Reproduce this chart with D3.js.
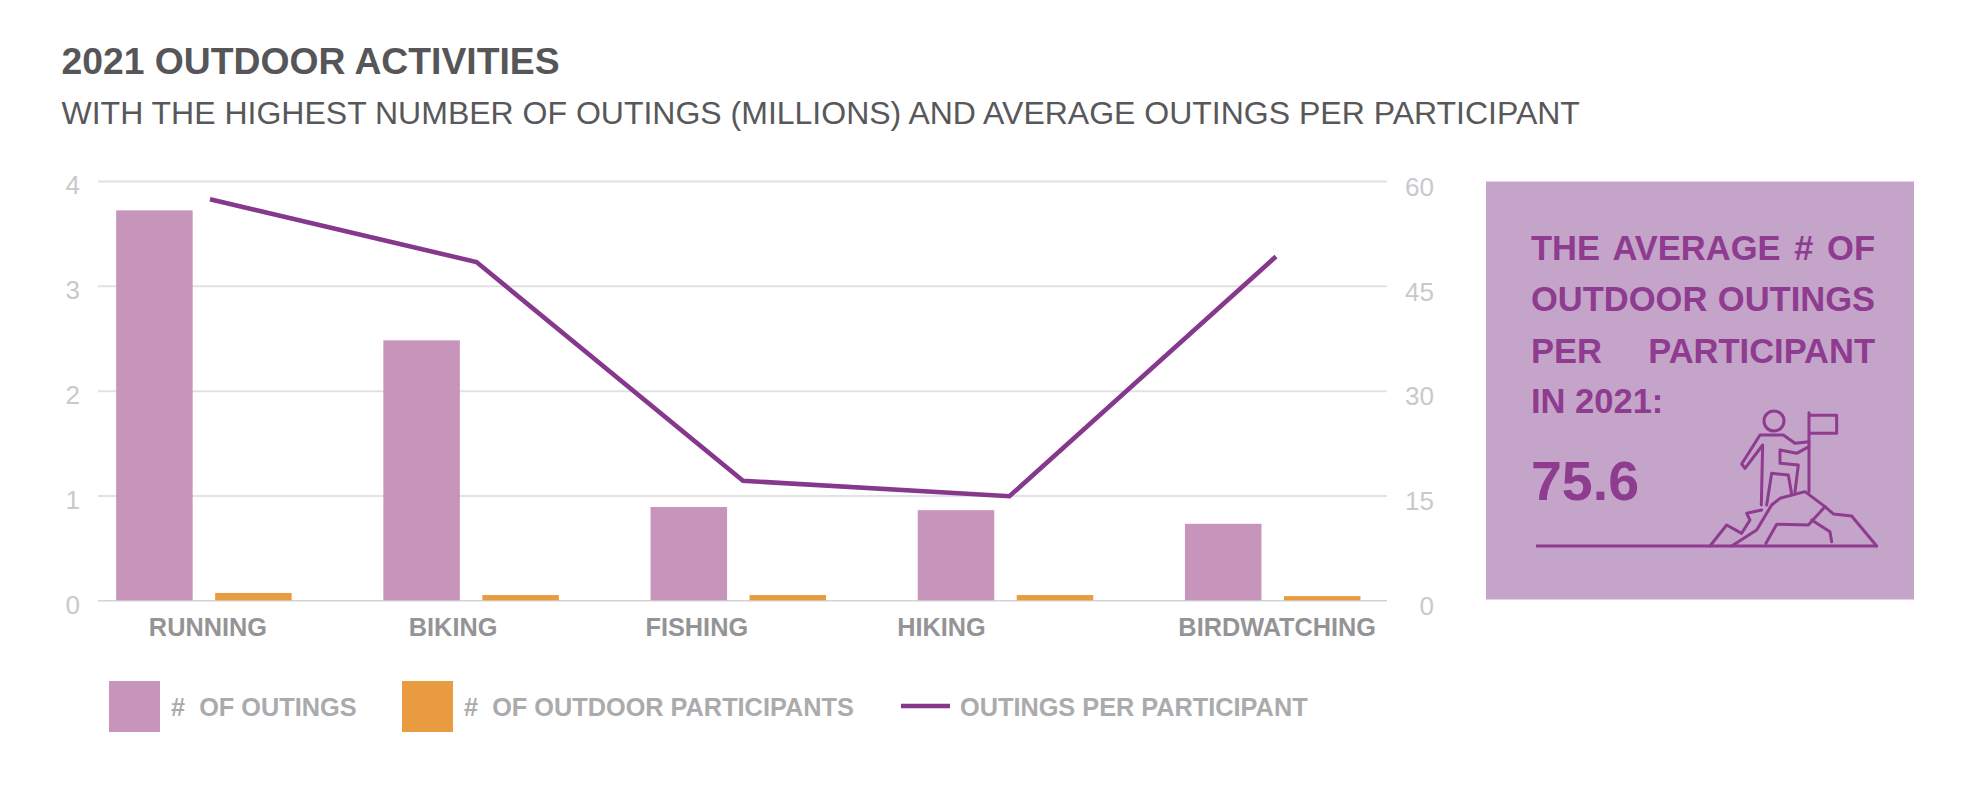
<!DOCTYPE html>
<html>
<head>
<meta charset="utf-8">
<script src="https://cdn.jsdelivr.net/npm/d3@7/dist/d3.min.js"></script>
<style>
html,body{margin:0;padding:0;background:#fff;}
svg{display:block;}
text{font-family:"Liberation Sans",Arial,sans-serif;white-space:pre;}
</style>
</head>
<body>
<svg id="chart" width="1970" height="808"></svg>
<script>
const categories = ["RUNNING","BIKING","FISHING","HIKING","BIRDWATCHING"];
const outings = [3.72,2.48,0.89,0.86,0.73];
const participants = [0.07,0.05,0.05,0.05,0.04];
const outingsPerParticipant = [57.4,48.4,17.1,14.9,49.2];
const leftTicks = [0,1,2,3,4];
const rightTicks = [0,15,30,45,60];
const titleText = "2021 OUTDOOR ACTIVITIES";
const subtitleText = "WITH THE HIGHEST NUMBER OF OUTINGS (MILLIONS) AND AVERAGE OUTINGS PER PARTICIPANT";
const legendLabels = ["#  OF OUTINGS","#  OF OUTDOOR PARTICIPANTS","OUTINGS PER PARTICIPANT"];
const panelLines = ["THE AVERAGE # OF","OUTDOOR OUTINGS","PER  PARTICIPANT","IN 2021:"];
const panelValue = "75.6";

const PURPLE="#c795bb", ORANGE="#e89c3f", LINE="#85388c", PANEL="#c4a4c8", PANELTXT="#8e3b90";
const svg=d3.select("#chart");

svg.append("text").attr("x",61.5).attr("y",73.5).attr("font-size",37.3).attr("font-weight","bold").attr("fill","#565658").text(titleText);
svg.append("text").attr("x",61.5).attr("y",123.5).attr("font-size",32).attr("fill","#58585a").text(subtitleText);

const y=d3.scaleLinear().domain([0,4]).range([600.3,181]);
const yR=d3.scaleLinear().domain([0,60]).range([600.3,181]);
const x=d3.scaleBand().domain(categories).range([70.3,1406.3]);
const xInner=d3.scaleBand().domain(["outings","participants"]).range([0,175.5]).paddingInner(0.227);
const xLine=d3.scalePoint().domain(categories).range([210,1276]);
const barLeft=d=>x(d)+(x.bandwidth()-175.5)/2;

// grid + left axis
const gridLeft=98, gridRight=1387;
const axL=svg.append("g").attr("transform",`translate(${gridLeft},0)`)
  .call(d3.axisLeft(y).tickValues(leftTicks).tickSize(-(gridRight-gridLeft)).tickPadding(18).tickFormat(d3.format("d")));
axL.select(".domain").remove();
axL.selectAll("line").attr("stroke",d=>d===0?"#d3d3d5":"#e2e2e4").attr("stroke-width",d=>d===0?1.5:2);
axL.selectAll("text").attr("font-size",26).attr("fill","#c9c9cb").attr("dy","0.32em")
  .attr("transform","translate(0,4.5)").style("font-family",'"Liberation Sans",sans-serif');

// right axis
const axR=svg.append("g").attr("transform",`translate(${gridRight},0)`)
  .call(d3.axisRight(yR).tickValues(rightTicks).tickSize(0).tickPadding(0).tickFormat(d3.format("d")));
axR.select(".domain").remove();
axR.selectAll("text").attr("font-size",26).attr("fill","#c9c9cb").attr("text-anchor","end")
  .attr("x",47).attr("dy","0.32em").attr("transform","translate(0,6)").style("font-family",'"Liberation Sans",sans-serif');

// bars
svg.append("g").selectAll("rect").data(categories).join("rect")
  .attr("x",d=>barLeft(d)+xInner("outings")).attr("width",xInner.bandwidth())
  .attr("y",(d,i)=>y(outings[i])).attr("height",(d,i)=>y(0)-y(outings[i])).attr("fill",PURPLE);
svg.append("g").selectAll("rect").data(categories).join("rect")
  .attr("x",d=>barLeft(d)+xInner("participants")).attr("width",xInner.bandwidth())
  .attr("y",(d,i)=>y(participants[i])).attr("height",(d,i)=>y(0)-y(participants[i])).attr("fill",ORANGE);

// line
const lineGen=d3.line().x(d=>xLine(d.c)).y(d=>yR(d.v));
svg.append("path").datum(categories.map((c,i)=>({c,v:outingsPerParticipant[i]})))
  .attr("d",lineGen).attr("fill","none").attr("stroke",LINE).attr("stroke-width",4.6).attr("stroke-linejoin","miter");

// category labels (hand placed in the source chart)
const labelNudge=[4,-18,-41.5,-64,4.5];
svg.append("g").selectAll("text").data(categories).join("text")
  .attr("x",(d,i)=>x(d)+x.bandwidth()/2+labelNudge[i]).attr("y",636).attr("text-anchor","middle")
  .attr("font-size",25.3).attr("font-weight","bold").attr("fill","#949496").text(d=>d);

// legend
const lg=svg.append("g");
lg.append("rect").attr("x",109).attr("y",681).attr("width",51).attr("height",51).attr("fill",PURPLE);
lg.append("rect").attr("x",402).attr("y",681).attr("width",51).attr("height",51).attr("fill",ORANGE);
lg.append("line").attr("x1",901).attr("x2",950).attr("y1",706).attr("y2",706).attr("stroke",LINE).attr("stroke-width",4.6);
[171,464,960].forEach((lx,i)=>{
  lg.append("text").attr("x",lx).attr("y",716).attr("font-size",25.3).attr("font-weight","bold").attr("fill","#ababad").text(legendLabels[i]);
});

// panel
const p=svg.append("g");
p.append("rect").attr("x",1486).attr("y",181.5).attr("width",428).attr("height",418).attr("fill",PANEL);
const baselines=[260,311,363,413];
panelLines.forEach((t,i)=>{
  const el=p.append("text").attr("x",1531).attr("y",baselines[i]).attr("font-size",34.5).attr("font-weight","bold").attr("fill",PANELTXT).text(t);
  if(i<3){
    const len=el.node().getComputedTextLength();
    const gaps=(t.match(/ /g)||[]).length;
    el.style("word-spacing",((344-len)/gaps)+"px");
  }
});
p.append("text").attr("x",1531).attr("y",500).attr("font-size",55.5).attr("font-weight","bold").attr("fill",PANELTXT).text(panelValue);

// hiker icon
const icon=p.append("g").attr("transform","translate(1700,390) scale(0.3333)").attr("fill","none")
  .attr("stroke",PANELTXT).attr("stroke-width",9).attr("stroke-linejoin","round").attr("stroke-linecap","round");
icon.append("circle").attr("cx",222).attr("cy",93).attr("r",30);
[
 "M327,68V305M327,76H410V130H327",
 "M327,155L285,160L250,135H180L125,222L135,235L188,165L184,345",
 "M327,170L290,190L240,180V220L295,225L285,305",
 "M200,345L215,250L265,255L275,312",
 "M95,468L170,420L215,345L240,325L315,305L375,350L400,372L455,378L530,468",
 "M30,468L80,405L125,430L150,390L140,370L185,360",
 "M375,350L325,405L230,403L198,460",
 "M335,390L390,425L395,455"
].forEach(d=>icon.append("path").attr("d",d));
p.append("line").attr("x1",1536).attr("x2",1877).attr("y1",546).attr("y2",546).attr("stroke",PANELTXT).attr("stroke-width",3);
</script>
</body>
</html>
